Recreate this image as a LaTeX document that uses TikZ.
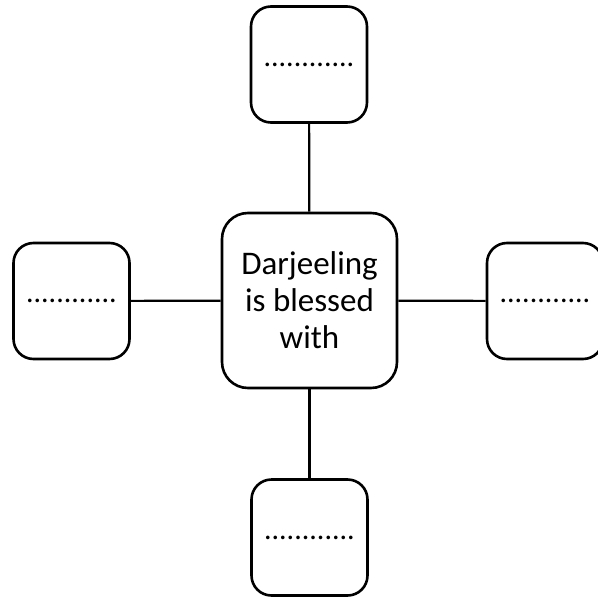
\documentclass[tikz,border=0pt]{standalone}
\usepackage{fontspec}
\setmainfont{Carlito}
\usepackage{tikz}
\tikzset{
  leafbox/.style={draw, line width=2.6pt, rounded corners=20pt, minimum width=116pt, minimum height=116pt, inner sep=0pt, font=\fontsize{30}{34}\selectfont},
  hubbox/.style={draw, line width=2.6pt, rounded corners=26pt, minimum width=175pt, minimum height=175pt, inner sep=0pt, align=center, font=\fontsize{33}{37}\selectfont},
  link/.style={line width=2.2pt}
}

\begin{document}
\begin{tikzpicture}[x=1pt, y=-1pt]
      \useasboundingbox (0, 0) rectangle (597, 599);
      \node[hubbox] (darj) at (309.5, 300.5) {Darjeeling\\is blessed\\with};
      \node[leafbox] (upper) at (309, 64.5) {............};
      \node[leafbox] (leftbox) at (71.5, 301) {............};
      \node[leafbox] (rightbox) at (545, 301) {............};
      \node[leafbox] (lower) at (309.5, 537.5) {............};
      \draw[link] (upper) to (darj);
      \draw[link] (leftbox) to (darj);
      \draw[link] (darj) to (rightbox);
      \draw[link] (darj) to (lower);
    \end{tikzpicture}
\end{document}
